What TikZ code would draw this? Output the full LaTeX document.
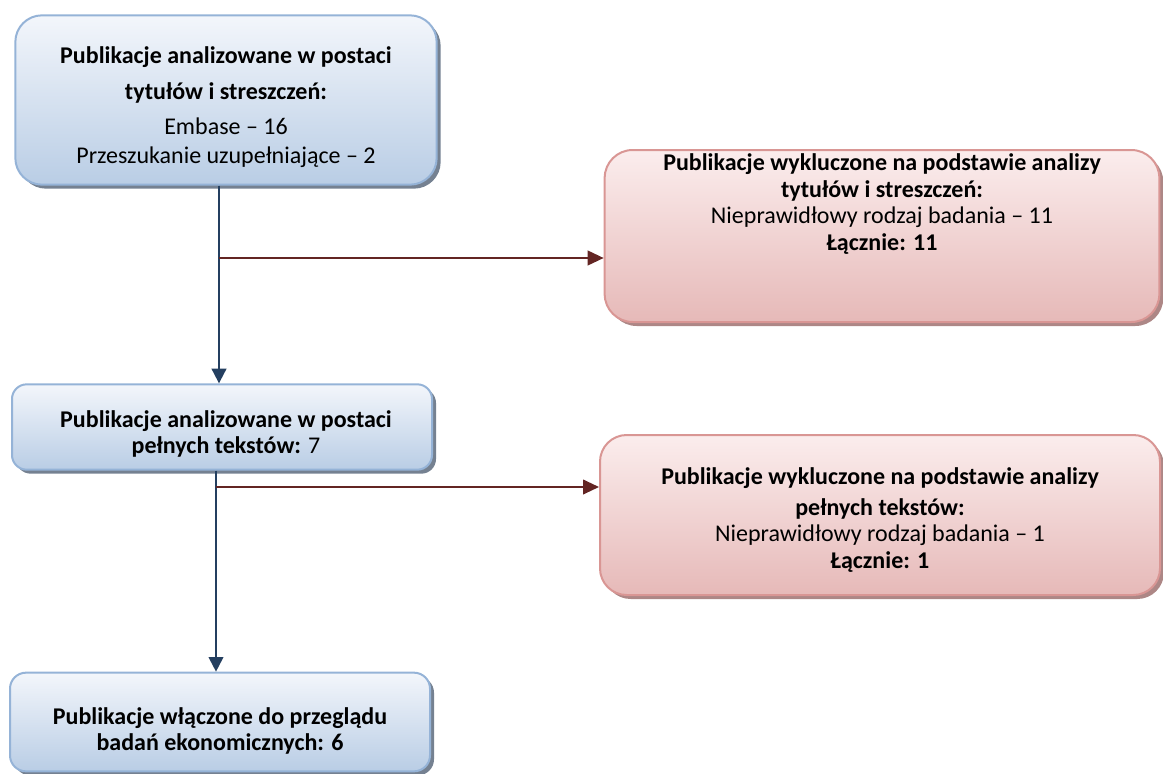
\documentclass[tikz,border=0pt]{standalone}
\usepackage{fontspec}
\setmainfont{Carlito}
\usepackage{tikz}
\usetikzlibrary{positioning,shadows,arrows.meta}

\definecolor{incdraw}{HTML}{95B3D7}
\definecolor{inctop}{HTML}{F3F6FB}
\definecolor{incbot}{HTML}{B9CDE5}
\definecolor{excdraw}{HTML}{D99694}
\definecolor{exctop}{HTML}{FBEDED}
\definecolor{excbot}{HTML}{E6B9B8}
\definecolor{incline}{HTML}{243F60}
\definecolor{excline}{HTML}{632523}

\begin{document}
\begin{tikzpicture}[x=0.75pt,y=-0.75pt,
INC/.style={rectangle, rounded corners=#1, draw=incdraw, line width=1.5pt, top color=inctop, bottom color=incbot, drop shadow={shadow xshift=3pt, shadow yshift=-3pt, fill=black!45!incdraw, opacity=0.8}},
EXC/.style={rectangle, rounded corners=#1, draw=excdraw, line width=1.5pt, top color=exctop, bottom color=excbot, drop shadow={shadow xshift=3pt, shadow yshift=-3pt, fill=black!30!excdraw, opacity=0.8}},
TXT/.style={align=center, font=\fontsize{18}{20}\selectfont},
]
\useasboundingbox (0,0) rectangle (1163,774);

%Nodes
\node[INC=20pt, minimum width=316pt, minimum height=127pt] (1) at (226,100) {};
\node[TXT] (1t) at (226,107) {\textbf{Publikacje analizowane w postaci}\\[7pt] \textbf{tytułów i streszczeń:}\\[6pt] Embase – 16\\[2pt] Przeszukanie uzupełniające – 2};

\node[EXC=21pt, minimum width=416pt, minimum height=129pt] (2) at (882,236) {};
\node[TXT] (2t) at (882,204) {\textbf{Publikacje wykluczone na podstawie analizy}\\ \textbf{tytułów i streszczeń:}\\ Nieprawidłowy rodzaj badania – 11\\ \textbf{Łącznie: 11}};

\node[INC=11pt, minimum width=315pt, minimum height=64pt] (3) at (222,427) {};
\node[TXT] (3t) at (226,434) {\textbf{Publikacje analizowane w postaci}\\ \textbf{pełnych tekstów:} 7};

\node[EXC=20pt, minimum width=420pt, minimum height=120pt] (4) at (880,515) {};
\node[TXT] (4t) at (880,520) {\textbf{Publikacje wykluczone na podstawie analizy}\\[3pt] \textbf{pełnych tekstów:}\\ Nieprawidłowy rodzaj badania – 1\\ \textbf{Łącznie: 1}};

\node[INC=12pt, minimum width=315pt, minimum height=74pt] (5) at (220,722) {};
\node[TXT] (5t) at (220,731) {\textbf{Publikacje włączone do przeglądu}\\ \textbf{badań ekonomicznych: 6}};

\coordinate (j1) at (219,258);
\coordinate (j2) at (216,487);

%Lines
\draw[-{Triangle[width=11pt,length=11pt]}, incline, line width=1.5pt] (1.south -| j1) -- (3.north -| j1);
\draw[-{Triangle[width=11pt,length=12pt]}, excline, line width=1.5pt] (j1) -- (j1 -| 2.west);
\draw[-{Triangle[width=11pt,length=11pt]}, incline, line width=1.5pt] (3.south -| j2) -- (5.north -| j2);
\draw[-{Triangle[width=11pt,length=12pt]}, excline, line width=1.5pt] (j2) -- (j2 -| 4.west);

\end{tikzpicture}
\end{document}
